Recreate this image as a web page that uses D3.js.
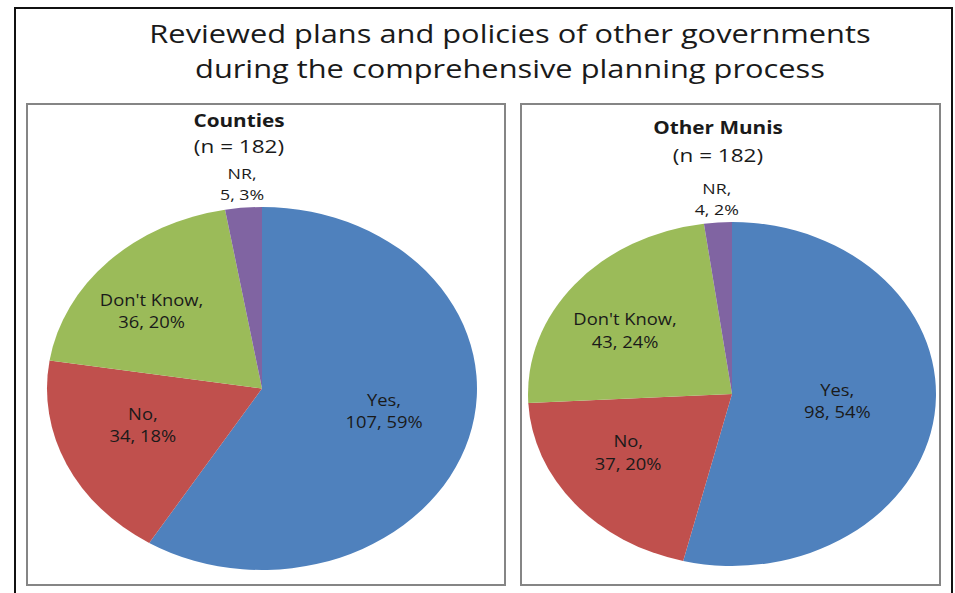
<!DOCTYPE html>
<html>
<head>
<meta charset="utf-8">
<script src="https://cdn.jsdelivr.net/npm/d3@7"></script>
<style>
  body { margin: 0; background: #fff; }
  svg { display: block; font-family: 'Open Sans', sans-serif; }
</style>
</head>
<body>
<script>
const categories = ['Yes', 'No', "Don't Know", 'NR'];
const colors = ['#4f81bd', '#c0504d', '#9bbb59', '#8064a2'];

const countiesValues = [107, 34, 36, 5];
const countiesPercents = ['59%', '18%', '20%', '3%'];

const munisValues = [98, 37, 43, 4];
const munisPercents = ['54%', '20%', '24%', '2%'];

const titleLines = ['Reviewed plans and policies of other governments', 'during the comprehensive planning process'];

const width = 955;
const height = 593;
// the original picture is stretched sideways, text included
const stretch = 1.185;

const svg = d3.select('body')
  .append('svg')
  .attr('width', width)
  .attr('height', height);

const addText = (x, y, size) => svg.append('text')
  .attr('transform', `translate(${x},${y}) scale(${stretch},1)`)
  .style('text-anchor', 'middle')
  .style('font-size', size + 'px')
  .style('fill', '#1a1a1a');

// outer frame (runs off the bottom of the picture)
svg.append('rect')
  .attr('x', 15)
  .attr('y', 8)
  .attr('width', 937)
  .attr('height', 600)
  .style('fill', 'none')
  .style('stroke', '#111')
  .style('stroke-width', 2);

addText(510, 43, 26)
  .selectAll('tspan')
  .data(titleLines)
  .join('tspan')
  .attr('x', 0)
  .attr('dy', (d, i) => (i === 0 ? 0 : 35))
  .text(d => d);

const panels = [
  { name: 'Counties', values: countiesValues, percents: countiesPercents,
    box: [27, 104, 478, 481], cx: 262, cy: 388.5, rx: 215, ry: 181.5,
    titleX: 239, titleY: 127, subGap: 26, labelR: [0.59, 0.61, 0.72] },
  { name: 'Other Munis', values: munisValues, percents: munisPercents,
    box: [521, 104, 419, 481], cx: 732, cy: 394, rx: 204, ry: 172,
    titleX: 718, titleY: 134, subGap: 28, labelR: [0.52, 0.66, 0.68] },
];

const pie = d3.pie().sort(null).value(d => d);

panels.forEach(p => {
  svg.append('rect')
    .attr('x', p.box[0])
    .attr('y', p.box[1])
    .attr('width', p.box[2])
    .attr('height', p.box[3])
    .style('fill', '#fff')
    .style('stroke', '#858585')
    .style('stroke-width', 2);

  addText(p.titleX, p.titleY, 17.5)
    .style('font-weight', 'bold')
    .text(p.name);
  addText(p.titleX, p.titleY + p.subGap, 19)
    .text('(n = ' + d3.sum(p.values) + ')');

  // pie drawn as a circle of radius rx, squashed vertically
  const sy = p.ry / p.rx;
  const arc = d3.arc().innerRadius(0).outerRadius(p.rx);
  const arcs = pie(p.values);

  svg.append('g')
    .attr('transform', `translate(${p.cx},${p.cy}) scale(1,${sy})`)
    .selectAll('path')
    .data(arcs)
    .join('path')
    .attr('d', arc)
    .style('fill', (d, i) => colors[i]);

  const outerArc = d3.arc().innerRadius(p.rx + 16).outerRadius(p.rx + 16);

  arcs.forEach((a, i) => {
    const small = (a.endAngle - a.startAngle) < 0.3;
    let x, y;
    if (small) {
      const c = outerArc.centroid(a);
      x = p.cx + c[0];
      y = p.cy + c[1] * sy - 15;
    } else {
      const r = p.rx * p.labelR[i];
      const c = d3.arc().innerRadius(r).outerRadius(r).centroid(a);
      x = p.cx + c[0];
      y = p.cy + c[1] * 0.7 - 7;
    }
    const t = addText(x, y, small ? 15 : 15.5);
    t.append('tspan').attr('x', 0).text(categories[i] + ',');
    t.append('tspan').attr('x', 0).attr('dy', small ? 21 : 22.5)
      .text(p.values[i] + ', ' + p.percents[i]);
  });
});
</script>
</body>
</html>
